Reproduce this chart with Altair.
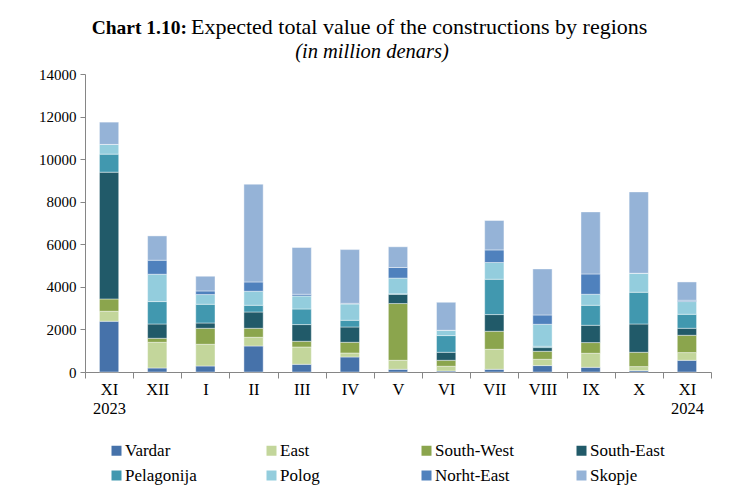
import altair as alt
import pandas as pd

months = ["XI 2023", "XII", "I", "II", "III", "IV", "V", "VI", "VII", "VIII", "IX", "X", "XI 2024"]
regions = ["Vardar", "East", "South-West", "South-East", "Pelagonija", "Polog", "Norht-East", "Skopje"]
colors = ["#4672AA", "#C3D69B", "#8BA54D", "#215A69", "#4198AF", "#93CDDD", "#4F81BD", "#95B3D7"]

vardar = [2384, 188, 282, 1222, 362, 705, 127, 47, 127, 301, 221, 66, 550]
east = [470, 1208, 1020, 409, 813, 188, 423, 221, 940, 296, 658, 188, 362]
south_west = [578, 188, 752, 423, 268, 503, 2666, 282, 846, 376, 503, 672, 813]
south_east = [5957, 672, 249, 766, 785, 719, 437, 376, 785, 174, 813, 1330, 329]
pelagonija = [846, 1053, 879, 315, 733, 315, 20, 785, 1660, 61, 940, 1490, 658]
polog = [456, 1284, 456, 658, 611, 766, 738, 249, 785, 1034, 517, 893, 597]
north_east = [0, 658, 169, 437, 80, 30, 498, 0, 592, 437, 954, 0, 61]
skopje = [1048, 1142, 691, 4593, 2196, 2525, 973, 1316, 1382, 2163, 2915, 3822, 860]

y_ticks = [0, 2000, 4000, 6000, 8000, 10000, 12000, 14000]

title_bold = "Chart 1.10:"
title_rest = "Expected total value of the constructions by regions"
subtitle = "(in million denars)"

series = [vardar, east, south_west, south_east, pelagonija, polog, north_east, skopje]
rows = []
for ri, (name, vals) in enumerate(zip(regions, series)):
    for m, v in zip(months, vals):
        rows.append({"month": m, "region": name, "value": v, "order": ri})
df = pd.DataFrame(rows)

FONT = "Liberation Serif"

bars = alt.Chart(df).mark_bar(
    width=alt.RelativeBandSize(0.4), stroke="white", strokeWidth=0.7, strokeOpacity=0.6
).encode(
    x=alt.X(
        "month:N", sort=months,
        scale=alt.Scale(paddingInner=0, paddingOuter=0),
        axis=alt.Axis(
            title=None, labelAngle=0, tickBand="extent",
            labelExpr="split(datum.label, ' ')",
            labelFont=FONT, labelFontSize=16.5, labelColor="#000000",
            labelLineHeight=19, tickSize=6, labelPadding=3,
            domainColor="#868686", tickColor="#868686",
        ),
    ),
    y=alt.Y(
        "value:Q", stack="zero",
        scale=alt.Scale(domain=[0, 14000], nice=False),
        axis=alt.Axis(
            title=None, values=y_ticks, grid=False, format="d",
            labelFont=FONT, labelFontSize=15, labelColor="#000000",
            tickSize=5, labelPadding=4,
            domainColor="#868686", tickColor="#868686",
        ),
    ),
    color=alt.Color(
        "region:N", sort=regions,
        scale=alt.Scale(domain=regions, range=colors),
        legend=alt.Legend(
            title=None, orient="none", legendX=23, legendY=368,
            direction="horizontal", columns=4, gridAlign="all",
            columnPadding=59, rowPadding=7, padding=0,
            symbolType="square", symbolSize=100, symbolStrokeWidth=0,
            labelFont=FONT, labelFontSize=17, labelColor="#000000",
            labelOffset=0, labelLimit=200,
        ),
    ),
    order=alt.Order("order:Q", sort="ascending"),
)

t_bold = alt.Chart(alt.Data(values=[{"t": title_bold}])).mark_text(
    font=FONT, fontSize=19.5, fontWeight="bold", align="right", baseline="alphabetic", color="#000000"
).encode(text="t:N", x=alt.value(102), y=alt.value(-40))

t_rest = alt.Chart(alt.Data(values=[{"t": title_rest}])).mark_text(
    font=FONT, fontSize=22, align="left", baseline="alphabetic", color="#000000"
).encode(text="t:N", x=alt.value(106), y=alt.value(-40))

t_sub = alt.Chart(alt.Data(values=[{"t": subtitle}])).mark_text(
    font=FONT, fontSize=20.5, fontStyle="italic", align="center", baseline="alphabetic", color="#000000"
).encode(text="t:N", x=alt.value(287), y=alt.value(-16))

chart = alt.layer(bars, t_bold, t_rest, t_sub).properties(
    width=626, height=298,
    padding={"left": 77, "top": 66, "right": 10, "bottom": 126},
    autosize=alt.AutoSizeParams(type="none"),
    background="white",
).configure_view(stroke=None)

chart.save("out.html", embed_options={"renderer": "svg", "actions": False})
